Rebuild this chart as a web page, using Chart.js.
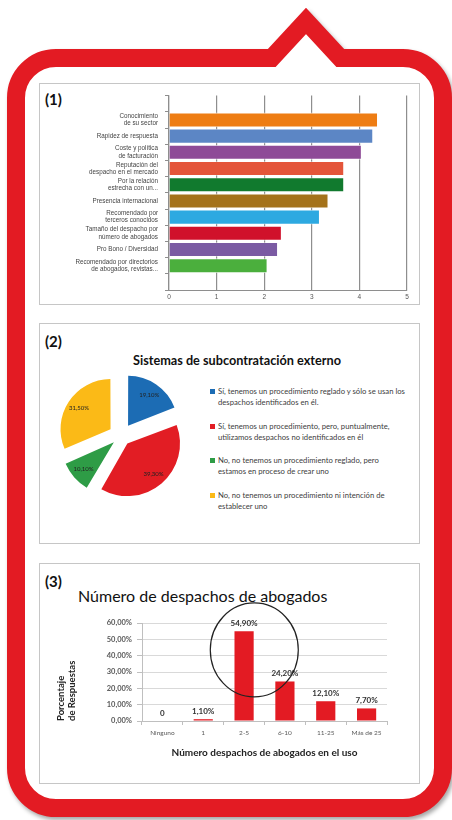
<!DOCTYPE html>
<html>
<head>
<meta charset="utf-8">
<script src="https://cdn.jsdelivr.net/npm/chart.js@4.4.1/dist/chart.umd.min.js"></script>
<style>
  body { margin: 0; width: 452px; height: 820px; position: relative; overflow: hidden; background: #fff; font-family: Lato, sans-serif; }
  #marco { position: absolute; left: 0; top: 0; }
  .panel { position: absolute; left: 39px; width: 381px; background: #fff; border: 1px solid #c6c6c6; box-sizing: border-box; }
  .num { position: absolute; left: 45px; font: bold 15px/15px Lato, sans-serif; color: #111; }
  canvas { position: absolute; }
  #titulo2 { position: absolute; left: 133px; top: 353px; font: bold 12.7px/15px Lato, sans-serif; color: #111; white-space: nowrap; }
  #titulo3 { position: absolute; left: 78px; top: 587px; font: 16px/18px Lato, sans-serif; color: #111; white-space: nowrap; }
  #leyenda { position: absolute; left: 210px; top: 386px; }
  .item { position: relative; height: 34.7px; padding-left: 8px; font: 7.7px/11px Lato, sans-serif; color: #404040; white-space: nowrap; }
  .item i { position: absolute; left: 0; top: 3px; width: 5px; height: 5px; }
</style>
</head>
<body>
<svg id="marco" width="452" height="820">
  <path d="M16 98 A40 40 0 0 1 56 58 L271.7 58 L306 21 L340.3 58 L403 58 A40 40 0 0 1 443 98 L443 768 A40 40 0 0 1 403 808 L56 808 A40 40 0 0 1 16 768 Z"
        fill="#fff" stroke="#E31B23" stroke-width="18" stroke-linejoin="miter" stroke-miterlimit="10"
        style="filter: drop-shadow(2px 3px 2px rgba(0,0,0,0.35))"/>
</svg>

<div class="panel" style="top:83px;height:222px"></div>
<div class="panel" style="top:323px;height:221px"></div>
<div class="panel" style="top:563px;height:221px"></div>

<div class="num" style="top:92px">(1)</div>
<div class="num" style="top:334px">(2)</div>
<div class="num" style="top:574px">(3)</div>

<canvas id="c1" width="376" height="218" style="left:41px;top:85px"></canvas>

<div id="titulo2">Sistemas de subcontratación externo</div>
<canvas id="c2" width="148" height="148" style="left:47px;top:362px"></canvas>
<div id="leyenda"></div>

<div id="titulo3">Número de despachos de abogados</div>
<canvas id="c3" width="377" height="217" style="left:41px;top:565px"></canvas>

<script>
// (1) factores de elección
const factores = [
  ['Conocimiento', 'de su sector'],
  'Rapidez de respuesta',
  ['Coste y política', 'de facturación'],
  ['Reputación del', 'despacho en el mercado'],
  ['Por la relación', 'estrecha con un...'],
  'Presencia internacional',
  ['Recomendado por', 'terceros conocidos'],
  ['Tamaño del despacho por', 'número de abogados'],
  'Pro Bono / Diversidad',
  ['Recomendado por directorios', 'de abogados, revistas...']
];
const puntuaciones = [4.38, 4.28, 4.04, 3.67, 3.67, 3.34, 3.16, 2.36, 2.28, 2.06];
const coloresFactores = ['#EE7D14', '#5C86C5', '#8E4A97', '#E4553A', '#117A2E',
                         '#A4721A', '#2DA9E1', '#D0112B', '#7B5BA3', '#4BAF3D'];

// (2) sistemas de subcontratación
const sistemas = [
  ['Sí, tenemos un procedimiento reglado y sólo se usan los', 'despachos identificados en él.'],
  ['Sí, tenemos un procedimiento, pero, puntualmente,', 'utilizamos despachos no identificados en él'],
  ['No, no tenemos un procedimiento reglado, pero', 'estamos en proceso de crear uno'],
  ['No, no tenemos un procedimiento ni intención de', 'establecer uno']
];
const porcentajesSistemas = [19.1, 39.3, 10.1, 31.5];
const coloresSistemas = ['#1C6CB4', '#E21D24', '#2E9C46', '#FBBA17'];

// (3) número de despachos
const rangos = ['Ninguno', '1', '2-5', '6-10', '11-25', 'Más de 25'];
const porcentajesDespachos = [0, 1.1, 54.9, 24.2, 12.1, 7.7];

Chart.defaults.font.family = 'Lato, sans-serif';
Chart.defaults.animation = false;
Chart.defaults.responsive = false;
Chart.defaults.plugins.legend.display = false;
Chart.defaults.plugins.tooltip.enabled = false;

const fmt = v => v.toFixed(2).replace('.', ',') + '%';

// grafico 1
new Chart(document.getElementById('c1'), {
  type: 'bar',
  data: {
    datasets: [{
      data: puntuaciones.map((v, i) => ({ x: v, y: i })),
      backgroundColor: coloresFactores,
      borderColor: 'rgba(255,255,255,0.7)',
      borderWidth: 0.8,
      barThickness: 14
    }]
  },
  options: {
    indexAxis: 'y',
    layout: { padding: { top: 6, right: 10 } },
    scales: {
      x: {
        min: 0, max: 5,
        ticks: { stepSize: 1, font: { family: 'Liberation Sans', size: 6.5 }, color: '#555', padding: 3 },
        grid: { color: '#8e8e8e', lineWidth: 1.2, drawTicks: false },
        border: { color: '#8e8e8e' },
        afterFit: s => { s.height = 13; }
      },
      y: {
        type: 'linear', min: -1, max: 10, reverse: true,
        ticks: {
          stepSize: 1, autoSkip: false, padding: 7,
          callback: v => factores[v] ?? '',
          font: { family: 'Liberation Sans', size: 6.3, lineHeight: 1.15 }, color: '#444'
        },
        grid: { drawOnChartArea: false, tickLength: 4, color: '#8e8e8e' },
        border: { color: '#8e8e8e', width: 1.2 },
        afterFit: s => { s.width = 128; }
      }
    }
  }
});

// grafico 2
const etiquetasPie = {
  id: 'etiquetasPie',
  afterDatasetsDraw(chart) {
    const ctx = chart.ctx;
    const meta = chart.getDatasetMeta(0);
    ctx.save();
    ctx.font = '6px Lato, sans-serif';
    ctx.fillStyle = '#222';
    ctx.textAlign = 'center';
    ctx.textBaseline = 'middle';
    meta.data.forEach((arc, i) => {
      const p = arc.getProps(['x', 'y', 'startAngle', 'endAngle', 'outerRadius', 'circumference']);
      const off = (arc.options.offset || 0) / 4;
      const fix = 1 - Math.sin(Math.min(Math.PI, p.circumference));
      const mid = (p.startAngle + p.endAngle) / 2;
      const r = p.outerRadius * 0.75 + off * (1 + fix);
      ctx.fillText(fmt(porcentajesSistemas[i]), p.x + Math.cos(mid) * r, p.y + Math.sin(mid) * r);
    });
    ctx.restore();
  }
};

new Chart(document.getElementById('c2'), {
  type: 'pie',
  data: {
    labels: sistemas.map(s => s.join(' ')),
    datasets: [{
      data: porcentajesSistemas,
      backgroundColor: coloresSistemas,
      borderWidth: 0,
      offset: [50, 39, 38, 50]
    }]
  },
  plugins: [etiquetasPie]
});

const leyenda = document.getElementById('leyenda');
sistemas.forEach((lineas, i) => {
  const d = document.createElement('div');
  d.className = 'item';
  d.innerHTML = '<i style="background:' + coloresSistemas[i] + '"></i>' + lineas.join('<br>');
  leyenda.appendChild(d);
});

// grafico 3
const extras3 = {
  id: 'extras3',
  afterDatasetsDraw(chart) {
    const ctx = chart.ctx;
    const x = chart.scales.x, y = chart.scales.y;
    ctx.save();
    ctx.font = 'bold 8px Lato, sans-serif';
    ctx.fillStyle = '#333';
    ctx.textAlign = 'center';
    ctx.textBaseline = 'bottom';
    chart.getDatasetMeta(0).data.forEach((bar, i) => {
      const v = porcentajesDespachos[i];
      ctx.fillText(v === 0 ? '0' : fmt(v), bar.x, bar.y - 4);
    });
    // circulo resaltando 2-5
    ctx.beginPath();
    ctx.ellipse(x.getPixelForValue(2.25), y.getPixelForValue(43.5), 44, 47, 0, 0, Math.PI * 2);
    ctx.strokeStyle = '#222';
    ctx.lineWidth = 1.2;
    ctx.stroke();
    ctx.restore();
  }
};

new Chart(document.getElementById('c3'), {
  type: 'bar',
  data: {
    labels: rangos,
    datasets: [{
      data: porcentajesDespachos,
      backgroundColor: '#E31B23',
      barPercentage: 0.47,
      categoryPercentage: 1
    }]
  },
  options: {
    layout: { padding: { top: 58, right: 31, bottom: 21 } },
    scales: {
      x: {
        grid: { drawOnChartArea: false, tickLength: 4, color: '#bfbfbf' },
        border: { color: '#bfbfbf' },
        ticks: { font: { size: 6.5 }, color: '#595959', padding: 4 },
        title: {
          display: true, text: 'Número despachos de abogados en el uso',
          font: { size: 10, weight: 'bold' }, color: '#222', padding: { top: 0, bottom: 2 }
        },
        afterFit: s => { s.height = 40; }
      },
      y: {
        min: 0, max: 60,
        ticks: { stepSize: 10, callback: v => fmt(v), font: { size: 7.5, weight: 'bold' }, color: '#595959', padding: 5 },
        grid: { color: '#d9d9d9', tickLength: 5, tickColor: '#bfbfbf' },
        border: { color: '#bfbfbf' },
        title: {
          display: true, text: ['Porcentaje', 'de Respuestas'], align: 'start',
          font: { size: 9.5, weight: 'bold', lineHeight: 1.15 }, color: '#222', padding: { top: 14.5 }
        },
        afterFit: s => { s.width = 101; }
      }
    }
  },
  plugins: [extras3]
});
</script>
</body>
</html>
